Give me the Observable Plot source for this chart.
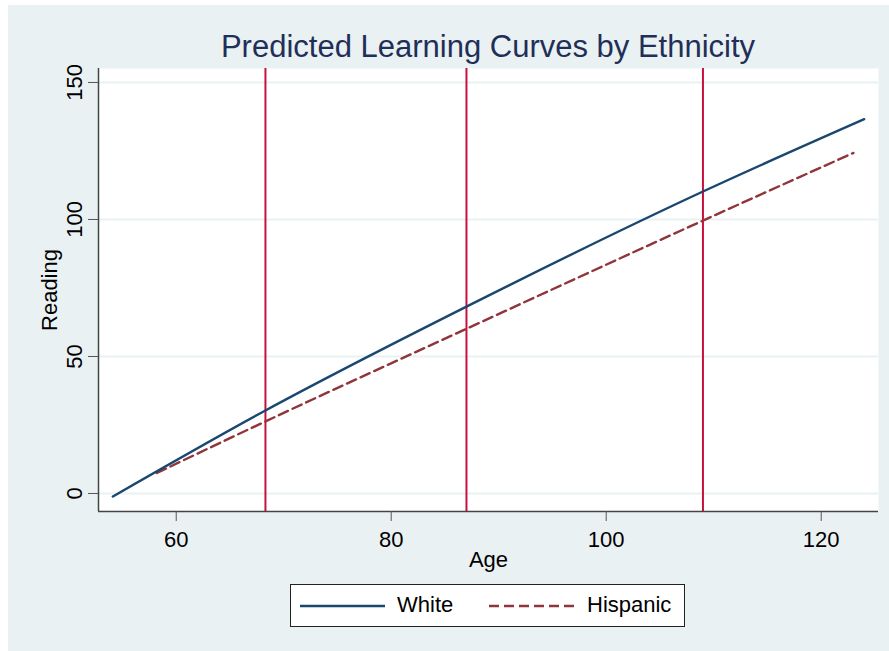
<!DOCTYPE html>
<html>
<head>
<meta charset="utf-8">
<script src="https://cdn.jsdelivr.net/npm/d3@7"></script>
<script src="https://cdn.jsdelivr.net/npm/@observablehq/plot@0.6"></script>
<style>
  html, body { margin: 0; padding: 0; background: #ffffff; width: 889px; height: 651px; overflow: hidden; }
  #bg { position: absolute; left: 8px; top: 5px; width: 881px; height: 646px; background: #EAF1F3; }
  #title { position: absolute; left: 98px; width: 780px; top: 30px; text-align: center;
    font-family: "Liberation Sans", Arial, sans-serif; font-size: 31px; color: #1F2F57; line-height: 34px; white-space: nowrap; }
  #chart { position: absolute; left: 8px; top: 60px; }
  #legend { position: absolute; left: 290px; top: 584px; width: 393px; height: 41px; background: #fff; border: 1px solid #222;
    font-family: "Liberation Sans", Arial, sans-serif; font-size: 22px; color: #000; }
  #legend svg { position: absolute; left: 0; top: 0; }
  #legend span { position: absolute; top: 8px; line-height: 24px; }
</style>
</head>
<body>
<div id="bg"></div>
<div id="title">Predicted Learning Curves by Ethnicity</div>
<div id="chart"></div>
<div id="legend">
  <svg width="393" height="41">
    <line x1="9" x2="94" y1="21" y2="21" stroke="#1A476F" stroke-width="2.4"></line>
    <line x1="198" x2="284" y1="21" y2="21" stroke="#90353B" stroke-width="2.4" stroke-dasharray="10,5"></line>
  </svg>
  <span id="lw" style="left:106px">White</span>
  <span id="lh" style="left:296px">Hispanic</span>
</div>
<script>
// Data
const whiteAge = [54.1, 68.3, 87.0, 109.0, 124.0];
const whiteReading = [-1.1, 30.3, 68.2, 110.2, 136.6];
const hispAge = [58.2, 68.3, 87.0, 109.0, 123.0];
const hispReading = [7.5, 26.3, 60.1, 99.6, 124.3];
const waveAges = [68.3, 87.0, 109.0];
const xTicks = [60, 80, 100, 120];
const yTicks = [0, 50, 100, 150];
const xDomain = [52.77, 125.33];
const yDomain = [-6.57, 155.1];

const white = whiteAge.map((a, i) => ({age: a, reading: whiteReading[i]}));
const hisp = hispAge.map((a, i) => ({age: a, reading: hispReading[i]}));

const font = "'Liberation Sans', Arial, sans-serif";

const chart = Plot.plot({
  width: 881,
  height: 520,
  marginLeft: 90,
  marginRight: 11,
  marginTop: 8,
  marginBottom: 69,
  style: {background: "transparent", fontFamily: font, fontSize: "21px", color: "#000"},
  x: {domain: xDomain, label: null},
  y: {domain: yDomain, label: null},
  marks: [
    Plot.frame({fill: "white", stroke: null}),
    Plot.gridY(yTicks, {stroke: "#EAF1F3", strokeOpacity: 1, strokeWidth: 2}),
    Plot.ruleX(waveAges, {stroke: "#C8103E", strokeWidth: 2}),
    Plot.line(hisp, {x: "age", y: "reading", stroke: "#90353B", strokeWidth: 2.4, strokeDasharray: "10,5", curve: "monotone-x"}),
    Plot.line(white, {x: "age", y: "reading", stroke: "#1A476F", strokeWidth: 2.4, curve: "monotone-x"}),
    Plot.ruleX([xDomain[0]], {stroke: "#444", strokeWidth: 1.5}),
    Plot.ruleY([yDomain[0]], {stroke: "#444", strokeWidth: 1.5}),
    Plot.axisX({ticks: xTicks, tickSize: 10, tickPadding: 10, stroke: "#555", fontSize: 22, label: null}),
    Plot.axisY({ticks: yTicks, tickSize: 10, text: null, stroke: "#555", label: null}),
    Plot.text(yTicks, {y: d => d, text: d => String(d), frameAnchor: "left", dx: -17, rotate: -90,
      textAnchor: "middle", lineAnchor: "bottom", fontSize: 22, fill: "#000"}),
    Plot.text(["Age"], {frameAnchor: "bottom", dy: 40, lineAnchor: "top", fontSize: 22, fill: "#000"}),
    Plot.text(["Reading"], {frameAnchor: "left", dx: -42, rotate: -90, textAnchor: "middle", lineAnchor: "bottom", fontSize: 22, fill: "#000"})
  ]
});
document.getElementById("chart").appendChild(chart);
</script>
</body>
</html>
